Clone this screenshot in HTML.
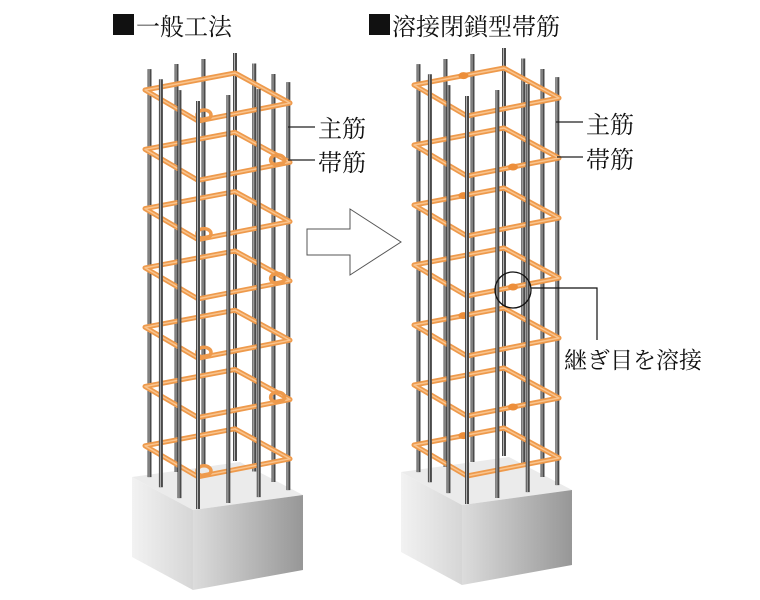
<!DOCTYPE html>
<html><head><meta charset="utf-8"><style>
html,body{margin:0;padding:0;background:#fff;width:760px;height:600px;overflow:hidden}
svg{display:block}
text{font-family:"Liberation Serif","Noto Serif CJK SC","Noto Sans CJK JP",serif;fill:#111}
</style></head><body>
<svg id="s" width="760" height="600" viewBox="0 0 760 600" xmlns="http://www.w3.org/2000/svg">
<defs>
<linearGradient id="gl" x1="0" x2="1"><stop offset="0" stop-color="#f2f2f2"/><stop offset="1" stop-color="#d6d6d6"/></linearGradient>
<linearGradient id="gr" x1="0" x2="1"><stop offset="0" stop-color="#dcdcdc"/><stop offset="1" stop-color="#979797"/></linearGradient>
</defs>
<g id="cols"></g>
<polygon points="307,229 350,229 350,209 401,242 350,275 350,255 307,255" fill="#fff" stroke="#555" stroke-width="1"/>
<rect x="113" y="14" width="21" height="21" fill="#111"/>
<text x="136" y="35" font-size="24" font-family="Noto Sans CJK JP,sans-serif">一般工法</text>
<rect x="369" y="14" width="21" height="21" fill="#111"/>
<text x="392" y="35" font-size="24" font-family="Noto Sans CJK JP,sans-serif">溶接閉鎖型帯筋</text>
<line x1="288" y1="127" x2="315" y2="127" stroke="#222" stroke-width="1.2"/>
<line x1="288" y1="160" x2="315" y2="160" stroke="#222" stroke-width="1.2"/>
<text x="318" y="137" font-size="24">主筋</text>
<text x="318" y="171" font-size="24">帯筋</text>
<line x1="556" y1="122" x2="583" y2="122" stroke="#222" stroke-width="1.2"/>
<line x1="557" y1="157" x2="583" y2="157" stroke="#222" stroke-width="1.2"/>
<text x="586" y="133" font-size="24">主筋</text>
<text x="586" y="168" font-size="24">帯筋</text>
<circle cx="513" cy="290" r="18" fill="none" stroke="#111" stroke-width="1.3"/>
<polyline points="531,288 597,288 597,340" fill="none" stroke="#111" stroke-width="1.2"/>
<text x="564" y="368" font-size="23">継ぎ目を溶接</text>
</svg>
<script>
var NS="http://www.w3.org/2000/svg",g=document.getElementById('cols');
function el(t,a){var e=document.createElementNS(NS,t);for(var k in a)e.setAttribute(k,a[k]);g.appendChild(e);return e;}
function col(ox,oy,sp,weld){
 var bx=ox-13,by=oy+387;
 el('polygon',{points:[bx,by,bx+108,by-15,bx+171,by+18,bx+61,by+33].join(','),fill:'#ebebeb'});
 el('polygon',{points:[bx,by,bx+61,by+33,bx+61,by+113,bx,by+80].join(','),fill:'url(#gl)'});
 el('polygon',{points:[bx+61,by+33,bx+171,by+18,bx+171,by+93,bx+61,by+113].join(','),fill:'url(#gr)'});
 var L=[0,0],B=[90,-17],R=[145,13],F=[53,31];
 function lerp(a,b,t){return [a[0]+(b[0]-a[0])*t,a[1]+(b[1]-a[1])*t];}
 var back=[lerp(L,B,0.05),lerp(L,B,0.35),lerp(L,B,0.65),B,lerp(B,R,0.35),lerp(B,R,0.7),lerp(B,R,0.97)];
 var front=[lerp(L,F,0.3),lerp(L,F,0.65),F,lerp(F,R,0.33),lerp(F,R,0.66)];
 function bar(p){var x=ox+p[0],y=oy+p[1];
  el('line',{x1:x,y1:y-20,x2:x,y2:y+388,stroke:'#4a4a4a','stroke-width':4});
  el('line',{x1:x-0.5,y1:y-20,x2:x-0.5,y2:y+388,stroke:'#b5b5b5','stroke-width':1});}
 back.forEach(bar);
 for(var i=0;i<7;i++){var y=oy+i*sp;
  var pts=[L,B,R,F].map(function(p){return (ox+p[0])+','+(y+p[1]);}).join(' ');
  el('polygon',{points:pts,fill:'none',stroke:'#ee9a4c','stroke-width':5,'stroke-linejoin':'round'});
  el('polygon',{points:pts,fill:'none',stroke:'#f9c48e','stroke-width':1.5,'stroke-linejoin':'round'});
  if(weld){var w=(i%2==0)?lerp(L,B,0.55):lerp(F,R,0.5);
   el('ellipse',{cx:ox+w[0],cy:y+w[1],rx:5,ry:3.5,fill:'#ec8e3a'});}
  else{var h=(i%2==0)?F:lerp(F,R,0.8);
   el('ellipse',{cx:ox+h[0]+6,cy:y+h[1]-6,rx:7,ry:5,fill:'none',stroke:'#ee9a4c','stroke-width':3.5});}
 }
 front.forEach(bar);
}
col(145,90,59.3,false);
col(414,85,60,true);
</script>
</body></html>
